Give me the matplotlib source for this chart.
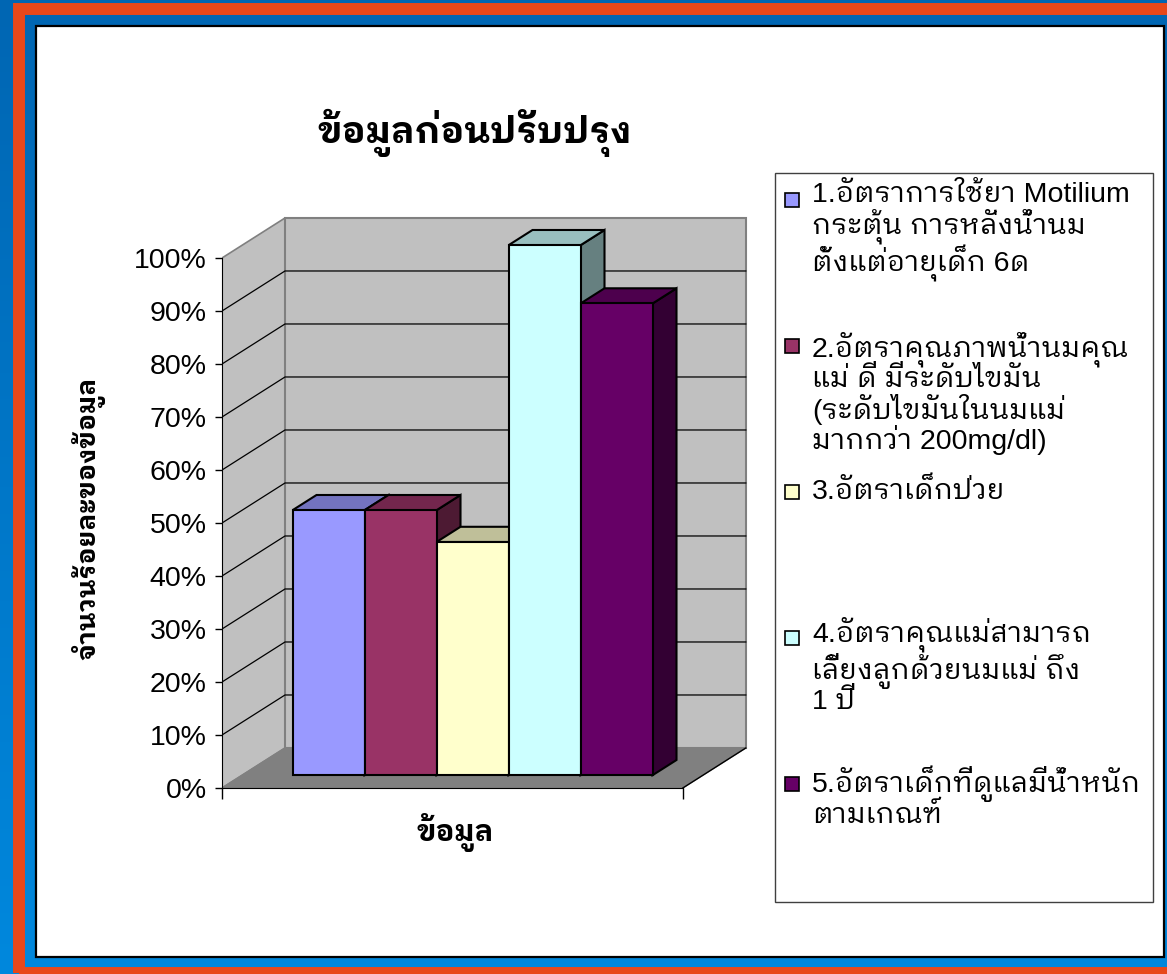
import numpy as np
import matplotlib
matplotlib.use("Agg")
import matplotlib.pyplot as plt
from matplotlib import font_manager
from matplotlib.ft2font import FT2Font
from matplotlib.patches import Polygon, Rectangle
from matplotlib.colors import LinearSegmentedColormap, to_rgb

# data
title = "ข้อมูลก่อนปรับปรุง"
x_label = "ข้อมูล"
y_label = "จำนวนร้อยละของข้อมูล"
series_labels = [
    "1.อัตราการใช้ยา Motilium\nกระตุ้น การหลั่งน้ำนม\nตั้งแต่อายุเด็ก 6ด",
    "2.อัตราคุณภาพน้ำนมคุณ\nแม่ ดี มีระดับไขมัน\n(ระดับไขมันในนมแม่\nมากกว่า 200mg/dl)",
    "3.อัตราเด็กป่วย",
    "4.อัตราคุณแม่สามารถ\nเลี้ยงลูกด้วยนมแม่ ถึง\n1 ปี",
    "5.อัตราเด็กที่ดูแลมีน้ำหนัก\nตามเกณฑ์",
]
values = [50, 50, 44, 100, 89]
colors = ["#9999FF", "#993366", "#FFFFCC", "#CCFFFF", "#660066"]
y_ticks = list(range(0, 101, 10))


def find_thai_fonts():
    found = {}
    for f in font_manager.fontManager.ttflist:
        try:
            cmap = FT2Font(f.fname).get_charmap()
        except Exception:
            continue
        if 0x0E01 in cmap:
            n = f.name.lower()
            score = 3 * ("looped" in n) + 2 * ("sans" in n) + ("thai" in n)
            found[f.name] = score
    return sorted(found, key=lambda k: -found[k])


thai_fonts = find_thai_fonts()
fams = ["Liberation Sans"] + thai_fonts[:1] + ["DejaVu Sans"]
plt.rcParams["font.family"] = fams

W, H = 1167, 974
fig = plt.figure(figsize=(W / 100, H / 100), dpi=100)


def fx(px):
    return px / W


def fy(py):
    return 1 - py / H


# background frame
bg = fig.add_axes([0, 0, 1, 1], zorder=-10)
cmap = LinearSegmentedColormap.from_list("bl", ["#0066B3", "#0088DD"])
bg.imshow(np.linspace(0, 1, 256)[:, None], cmap=cmap, aspect="auto",
          extent=[0, 1, 0, 1], origin="upper")
bg.set_xlim(0, 1)
bg.set_ylim(0, 1)
bg.axis("off")
bg.add_patch(Rectangle((fx(19), fy(973)), fx(1181) - fx(19), fy(9) - fy(973),
                       facecolor="none", edgecolor="#E8481A", lw=8.6))
bg.add_patch(Rectangle((fx(36), fy(957)), fx(1163.5) - fx(36), fy(26) - fy(957),
                       facecolor="white", edgecolor="black", lw=1.6))

# main axes: 1 x-unit = one bar, 1 y-unit = 1 %
ax = fig.add_axes([fx(222), fy(800), fx(750) - fx(222), fy(205) - fy(800)])
ax.set_xlim(0, 528 / 72)
ax.set_ylim((788 - 800) / 5.3, (788 - 205) / 5.3)
ax.patch.set_visible(False)

gap = 0.7
n = len(values)
floor_w = n + 2 * gap
dx, dy = 0.875, 7.55
d0, d1 = 0.32, 0.70
top = y_ticks[-1]

# walls and floor
ax.add_patch(Polygon([(0, 0), (dx, dy), (dx, top + dy), (0, top)],
                     facecolor="#C0C0C0", edgecolor="#808080", lw=1.2, zorder=1))
ax.add_patch(Polygon([(dx, dy), (floor_w + dx, dy), (floor_w + dx, top + dy), (dx, top + dy)],
                     facecolor="#C0C0C0", edgecolor="#808080", lw=1.5, zorder=1))
ax.add_patch(Polygon([(0, 0), (dx, dy), (floor_w + dx, dy), (floor_w, 0)],
                     facecolor="#808080", edgecolor="#808080", lw=1, zorder=1))
ax.plot([floor_w, floor_w + dx], [0, dy], color="black", lw=1, zorder=2)
for v in y_ticks[1:-1]:
    ax.plot([0, dx, floor_w + dx], [v, v + dy, v + dy], color="black", lw=0.9, zorder=2)

# bars
for i, (v, c) in enumerate(zip(values, colors)):
    rgb = np.array(to_rgb(c))
    x0 = gap + i
    x1 = x0 + 1
    front = [(x0 + d0 * dx, d0 * dy), (x1 + d0 * dx, d0 * dy),
             (x1 + d0 * dx, v + d0 * dy), (x0 + d0 * dx, v + d0 * dy)]
    topf = [(x0 + d0 * dx, v + d0 * dy), (x1 + d0 * dx, v + d0 * dy),
            (x1 + d1 * dx, v + d1 * dy), (x0 + d1 * dx, v + d1 * dy)]
    side = [(x1 + d0 * dx, d0 * dy), (x1 + d1 * dx, d1 * dy),
            (x1 + d1 * dx, v + d1 * dy), (x1 + d0 * dx, v + d0 * dy)]
    kw = dict(edgecolor="black", lw=1.5, zorder=3 + i, joinstyle="miter")
    ax.add_patch(Polygon(side, facecolor=rgb * 0.5, **kw))
    ax.add_patch(Polygon(topf, facecolor=rgb * 0.75, **kw))
    ax.add_patch(Polygon(front, facecolor=rgb, **kw))

# axes lines and ticks
for s in ["top", "right"]:
    ax.spines[s].set_visible(False)
ax.spines["left"].set_bounds(0, top)
ax.spines["bottom"].set_position(("data", 0))
ax.spines["bottom"].set_bounds(0, floor_w)
ax.set_yticks(y_ticks)
ax.set_yticklabels([f"{v}%" for v in y_ticks], fontsize=20.5, family="Liberation Sans")
ax.set_xticks([0, floor_w])
ax.set_xticklabels([])
ax.tick_params(axis="y", direction="out", length=5, width=1, pad=6)
ax.tick_params(axis="x", direction="out", length=8, width=1)

# titles
fig.text(fx(475), fy(133), title, ha="center", va="center", fontsize=26.5, fontweight="bold")
fig.text(fx(455), fy(833), x_label, ha="center", va="center", fontsize=21, fontweight="bold")
fig.text(fx(88), fy(518), y_label, ha="center", va="center", fontsize=19,
         fontweight="bold", rotation=90)

# legend
bg.add_patch(Rectangle((fx(775), fy(902)), fx(1153) - fx(775), fy(173) - fy(902),
                       facecolor="white", edgecolor="#404040", lw=1))
for i, (lab, c) in enumerate(zip(series_labels, colors)):
    yc = 200 + 146 * i
    bg.add_patch(Rectangle((fx(785), fy(yc + 7)), fx(14), fy(0) - fy(14),
                           facecolor=c, edgecolor="black", lw=1.2))
    nl = lab.count("\n")
    fig.text(fx(812), fy(yc + 7 + 32 * nl), lab, ha="left", va="baseline",
             fontsize=20.5, linespacing=1.02)

fig.savefig("out.png", dpi=100)
